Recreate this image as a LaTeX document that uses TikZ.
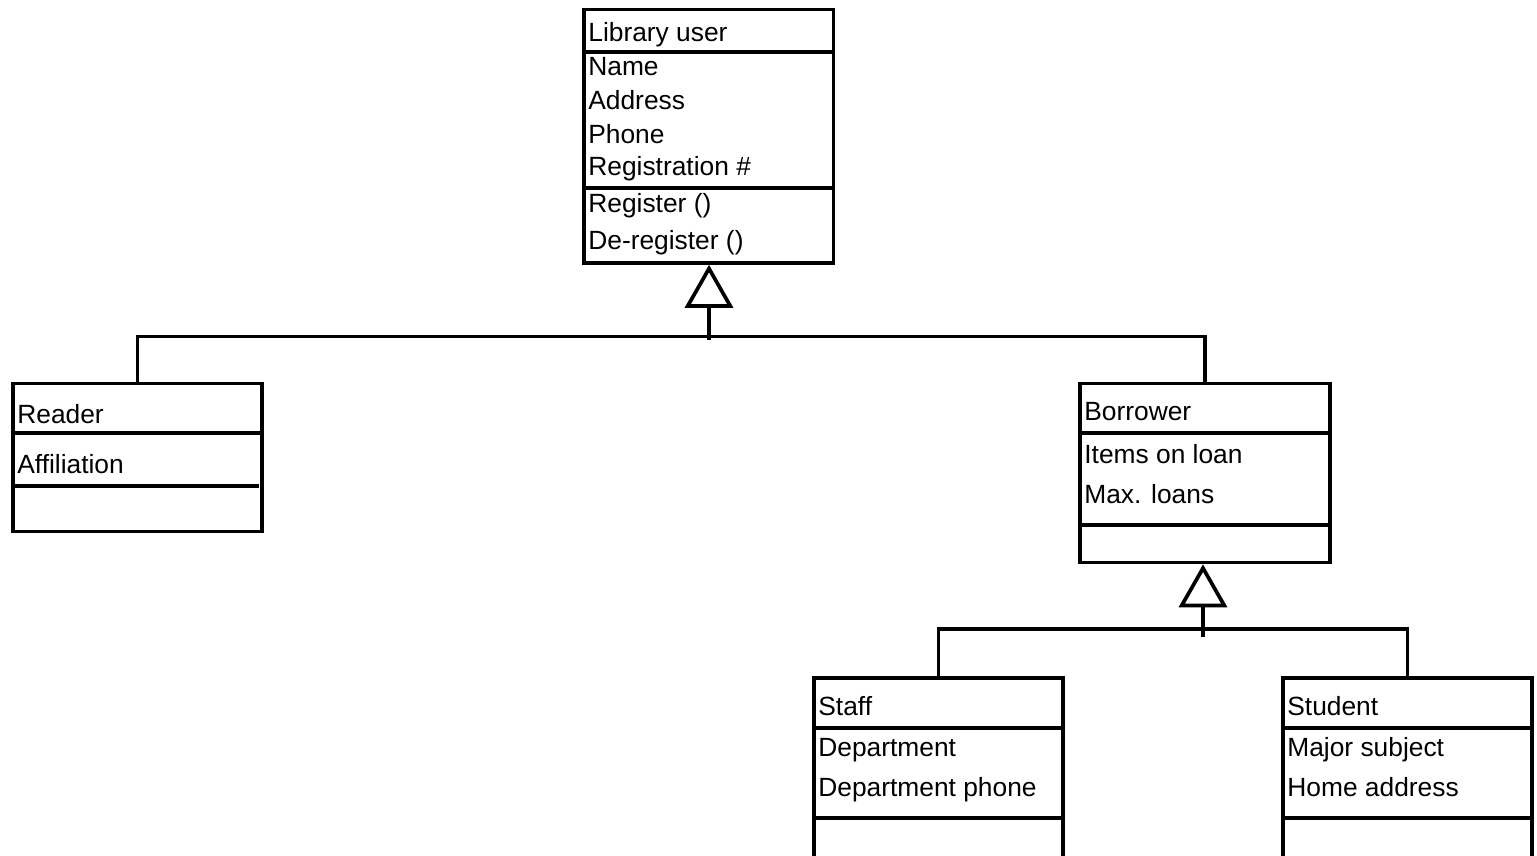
\documentclass[tikz,border=0pt]{standalone}
\usepackage{fontspec}
\setmainfont{Liberation Sans}
\usetikzlibrary{arrows.meta}

\tikzset{
  classbox/.style = {draw, rectangle, inner sep=0pt},
  attr/.style = {anchor=base west, inner sep=0pt, font=\fontsize{15}{17}\selectfont},
  gen/.style = {-{Triangle[open, length=0.86cm, width=0.96cm, fill=white]}}
}

\begin{document}
\begin{tikzpicture}[x=0.02cm, y=-0.02cm, line width=2.1pt]
  \clip (0,0) rectangle (1537,855);

  % Library user
  \node[classbox, minimum width=4.99cm, minimum height=5.07cm] (user) at (708.75,136.25) {};
  \draw (584,52.3) -- (833.5,52.3);
  \draw (584,188.3) -- (833.5,188.3);
  \node[attr] (userTitle) at (586.5,41.7) {Library user};
  \node[attr] (userName) at (586.5,75) {Name};
  \node[attr] (userAddr) at (586.5,110) {Address};
  \node[attr] (userPhone) at (586.5,143.3) {Phone};
  \node[attr] (userReg) at (586.5,175) {Registration \#};
  \node[attr] (userOpReg) at (586.5,212) {Register ()};
  \node[attr] (userOpDereg) at (586.5,249) {De-register ()};

  % Reader
  \node[classbox, minimum width=4.98cm, minimum height=2.96cm] (reader) at (137.5,457.5) {};
  \draw (13,433.3) -- (262,433.3);
  \draw (13,486) -- (259,486);
  \node[attr] (readerTitle) at (15.5,423) {Reader};
  \node[attr] (readerAff) at (15.5,473.3) {Affiliation};

  % Borrower
  \node[classbox, minimum width=4.99cm, minimum height=3.58cm] (borrower) at (1205,473) {};
  \draw (1080,433.3) -- (1330,433.3);
  \draw (1080,525) -- (1330,525);
  \node[attr] (borrowerTitle) at (1082.5,420.7) {Borrower};
  \node[attr] (borrowerItems) at (1082.5,463.3) {Items on loan};
  \node[attr] (borrowerMax) at (1082.5,503.3) {Max. loans};

  % Staff
  \node[classbox, minimum width=4.98cm, minimum height=4.44cm] (staff) at (938.5,789) {};
  \draw (814,728.3) -- (1063,728.3);
  \draw (814,818) -- (1063,818);
  \node[attr] (staffTitle) at (816.5,715) {Staff};
  \node[attr] (staffDept) at (816.5,756.7) {Department};
  \node[attr] (staffPhone) at (816.5,796.7) {Department phone};

  % Student
  \node[classbox, minimum width=4.98cm, minimum height=4.44cm] (student) at (1407.5,789) {};
  \draw (1283,728.3) -- (1532,728.3);
  \draw (1283,818) -- (1532,818);
  \node[attr] (studentTitle) at (1285.5,715) {Student};
  \node[attr] (studentMajor) at (1285.5,756.7) {Major subject};
  \node[attr] (studentHome) at (1285.5,796.7) {Home address};

  % generalisation
  \coordinate (bus1) at (709,336.5);
  \coordinate (stem1) at (709,340);
  \draw (reader.north) |- (bus1) -| (borrower.north);
  \draw[gen] (stem1) -- (stem1 |- user.south);

  \coordinate (bus2) at (1203,629);
  \coordinate (stem2) at (1203,637);
  \draw (staff.north) |- (bus2) -| (student.north);
  \draw[gen] (stem2) -- (stem2 |- borrower.south);
\end{tikzpicture}
\end{document}
